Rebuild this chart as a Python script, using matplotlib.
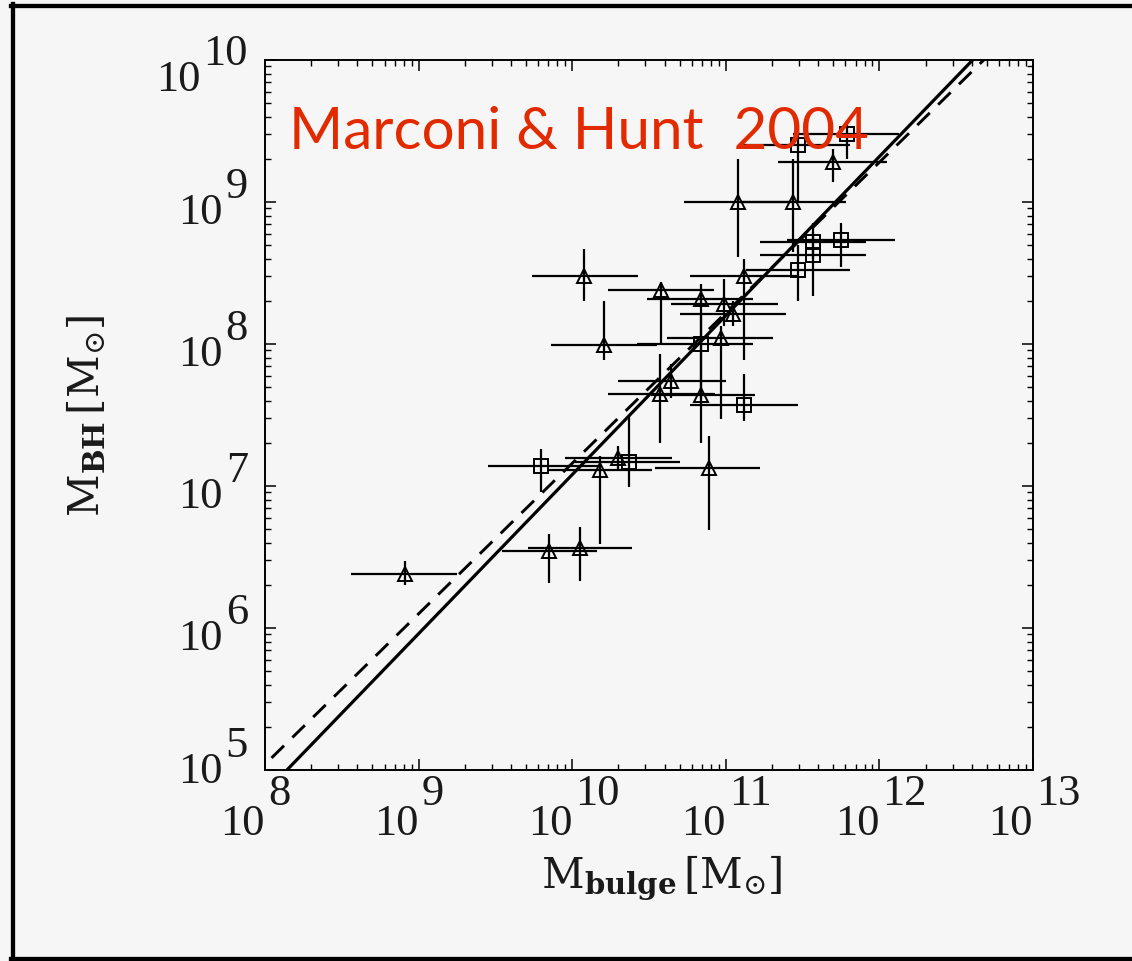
import matplotlib.pyplot as plt
import matplotlib.transforms as mtransforms
from matplotlib.lines import Line2D
import numpy as np

plt.rcParams["mathtext.fontset"] = "dejavuserif"

# 数据（log10 值，从图上读出）
# 三角形点：x, y, x误差下限/上限, y误差下限/上限
tri_lx = [8.91, 9.85, 10.05, 10.18, 10.30, 10.89, 10.57, 10.64, 10.84, 10.58,
          10.21, 10.08, 10.84, 10.99, 11.05, 10.97, 11.08, 11.44, 11.12, 11.70]
tri_ly = [6.38, 6.54, 6.56, 7.11, 7.20, 7.13, 7.65, 7.74, 7.64, 8.38,
          7.99, 8.48, 8.32, 8.28, 8.21, 8.04, 9.00, 9.00, 8.48, 9.28]
tri_xlo = [8.56, 9.54, 9.71, 9.85, 9.95, 10.54, 10.23, 10.30, 10.51, 10.23,
           9.86, 9.74, 10.49, 10.64, 10.70, 10.62, 10.73, 11.09, 10.77, 11.34]
tri_xhi = [9.25, 10.16, 10.39, 10.52, 10.65, 11.22, 10.93, 11.00, 11.19, 10.92,
           10.55, 10.43, 11.18, 11.34, 11.39, 11.31, 11.42, 11.78, 11.47, 12.05]
tri_ylo = [6.30, 6.32, 6.33, 6.59, 7.12, 6.69, 7.30, 7.62, 7.30, 8.00,
           7.89, 8.30, 7.95, 8.13, 8.13, 7.47, 8.61, 8.65, 7.89, 9.14]
tri_yhi = [6.47, 6.66, 6.71, 7.21, 7.28, 7.35, 7.93, 7.86, 7.95, 8.44,
           8.30, 8.67, 8.42, 8.46, 8.30, 8.13, 9.30, 9.30, 8.60, 9.37]

# 方形点
sq_lx = [9.80, 10.37, 10.84, 11.12, 11.47, 11.57, 11.57, 11.75, 11.47, 11.79]
sq_ly = [7.14, 7.17, 8.00, 7.57, 8.52, 8.63, 8.72, 8.73, 9.40, 9.48]
sq_xlo = [9.45, 10.02, 10.42, 10.77, 11.13, 11.22, 11.22, 11.40, 11.11, 11.44]
sq_xhi = [10.18, 10.70, 11.18, 11.47, 11.81, 11.91, 11.91, 12.10, 11.81, 12.13]
sq_ylo = [6.96, 6.99, 7.61, 7.46, 8.30, 8.34, 8.60, 8.54, 9.00, 9.30]
sq_yhi = [7.26, 7.49, 8.21, 7.79, 8.70, 8.79, 8.85, 8.85, 9.50, 9.58]

# 拟合直线：log M_BH = a + b (log M_bulge - 11)
solid_a, solid_b = 8.20, 1.12
dash_a, dash_b = 8.22, 1.06

x_exps = [8, 9, 10, 11, 12, 13]
y_exps = [5, 6, 7, 8, 9, 10]

W, H = 1132, 962
bg = "#f6f6f6"

fig = plt.figure(figsize=(W / 100, H / 100), dpi=100, facecolor=bg)
ax = fig.add_axes([265 / W, 1 - 771 / H, (1033 - 265) / W, (771 - 61) / H])
ax.set_facecolor(bg)
ax.set_xscale("log")
ax.set_yscale("log")
ax.set_xlim(1e8, 1e13)
ax.set_ylim(1e5, 1e10)


def 画点(lx, ly, xlo, xhi, ylo, yhi, marker, ms):
    x = 10 ** np.array(lx)
    y = 10 ** np.array(ly)
    xerr = [x - 10 ** np.array(xlo), 10 ** np.array(xhi) - x]
    yerr = [y - 10 ** np.array(ylo), 10 ** np.array(yhi) - y]
    ax.errorbar(x, y, xerr=xerr, yerr=yerr, fmt="none", ecolor="black",
                elinewidth=1.6, capsize=0, zorder=3)
    ax.plot(x, y, linestyle="none", marker=marker, ms=ms, mfc="none",
            mec="black", mew=1.4, zorder=4)


画点(tri_lx, tri_ly, tri_xlo, tri_xhi, tri_ylo, tri_yhi, "^", 10)
画点(sq_lx, sq_ly, sq_xlo, sq_xhi, sq_ylo, sq_yhi, "s", 9.5)

lx_line = np.linspace(7.5, 13.5, 50)
ax.plot(10 ** lx_line, 10 ** (solid_a + solid_b * (lx_line - 11)),
        color="black", lw=2.3, zorder=5)
ax.plot(10 ** lx_line, 10 ** (dash_a + dash_b * (lx_line - 11)),
        color="black", lw=2.1, dashes=(6, 4), zorder=5)

# 坐标轴样式
for s in ax.spines.values():
    s.set_linewidth(1.4)
ax.tick_params(which="both", direction="in", top=True, right=True,
               labelbottom=False, labelleft=False)
ax.tick_params(which="major", length=8, width=1.1)
ax.tick_params(which="minor", length=4.5, width=1.0)

# 刻度标签（IDL 风格，上标几乎和底数一样大）
tick_font = dict(family="Liberation Serif", fontsize=32, color="#1a1a1a")
tx = mtransforms.blended_transform_factory(ax.transData, ax.transAxes)
ty = mtransforms.blended_transform_factory(ax.transAxes, ax.transData)
for e in x_exps:
    t1 = mtransforms.offset_copy(tx, fig=fig, x=0, y=-64, units="dots")
    ax.text(10.0 ** e, 0, "10", transform=t1, ha="right", va="baseline",
            **tick_font)
    t2 = mtransforms.offset_copy(tx, fig=fig, x=3, y=-34, units="dots")
    ax.text(10.0 ** e, 0, str(e), transform=t2, ha="left", va="baseline",
            **tick_font)
for e in y_exps:
    # 最上和最下的标签向内收一点
    dy = 5
    if e == y_exps[-1]:
        dy = -4
    elif e == y_exps[0]:
        dy = 14
    t2 = mtransforms.offset_copy(ty, fig=fig, x=-17, y=dy, units="dots")
    sup = ax.text(0, 10.0 ** e, str(e), transform=t2, ha="right",
                  va="baseline", **tick_font)
    ax.annotate("10", xy=(0, 0), xycoords=sup, xytext=(-3, -17),
                textcoords="offset pixels", ha="right", va="baseline",
                **tick_font)

# 轴标题
fig.text(662 / W, 1 - 878 / H,
         r"$\mathrm{M}_{\mathbf{bulge}}\,\left[\mathrm{M}_{\odot}\right]$",
         fontsize=30, ha="center", va="center", color="#1a1a1a")
fig.text(87 / W, 1 - 416 / H,
         r"$\mathrm{M}_{\mathbf{BH}}\,\left[\mathrm{M}_{\odot}\right]$",
         fontsize=30, ha="center", va="center", rotation=90, color="#1a1a1a")

# 红色标题
ax.text(289 / W, 1 - 149 / H, "Marconi & Hunt  2004", transform=fig.transFigure,
        family="Lato", fontsize=42, color="#e22a00", ha="left", va="baseline",
        zorder=6)

# 外框（右边被裁掉）
for xs, ys in [([12.8, 12.8], [5, 962]), ([10.7, W], [7, 7]),
               ([10.7, W], [960, 960])]:
    fig.add_artist(Line2D([v / W for v in xs], [1 - v / H for v in ys],
                          transform=fig.transFigure, color="black", lw=3.1))

fig.savefig("out.png", dpi=100, facecolor=bg)
